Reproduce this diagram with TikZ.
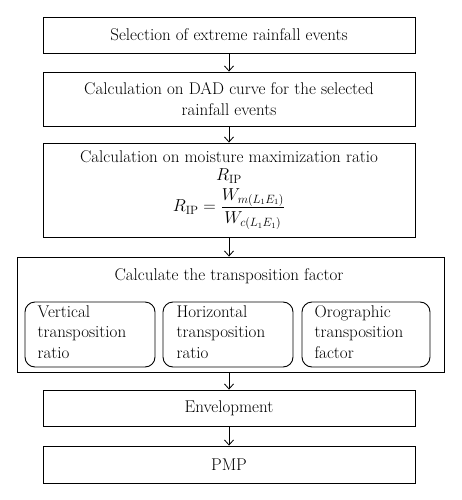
\documentclass[tikz,border=0pt]{standalone}
\usetikzlibrary{arrows.meta}
\begin{document}
\begin{tikzpicture}[x=1pt,y=-1pt,
  box/.style={draw,line width=0.9pt,rectangle,inner sep=0pt},
  sub/.style={draw,line width=0.9pt,rounded corners=10pt,inner sep=0pt},
  txt/.style={font=\fontsize{17}{20.5}\selectfont,align=center},
  arr/.style={-{Straight Barb[length=5pt,width=9pt]},line width=0.8pt}]
\useasboundingbox (0,0) rectangle (461,500);
% boxes
\node[box,minimum width=372pt,minimum height=36pt] (b1) at (229,35) {};
\node[txt] (t1) at (b1.center) {Selection of extreme rainfall events};
\node[box,minimum width=372pt,minimum height=54pt] (b2) at (229,99) {};
\node[txt] (t2) at (b2.center) {Calculation on DAD curve for the selected\\rainfall events};
\node[box,minimum width=372pt,minimum height=94pt] (b3) at (229,190) {};
\node[txt] (t3) at (229,157) {Calculation on moisture maximization ratio};
\node[txt] (t3b) at (229,176) {$R_{\mathrm{IP}}$};
\node[txt] (t3c) at (229,209) {$\displaystyle R_{\mathrm{IP}} = \frac{W_{m(L_1E_1)}}{W_{c(L_1E_1)}}$};
\node[box,minimum width=427pt,minimum height=115pt] (b4) at (230.5,314.5) {};
\node[txt] (t4) at (229,276) {Calculate the transposition factor};
\node[sub,minimum width=130pt,minimum height=65pt] (s1) at (90,334.5) {};
\node[sub,minimum width=130pt,minimum height=65pt] (s2) at (228,334.5) {};
\node[sub,minimum width=128pt,minimum height=65pt] (s3) at (366,334.5) {};
\node[txt,align=left,anchor=west] (u1) at (34,332) {Vertical\\transposition\\ratio};
\node[txt,align=left,anchor=west] (u2) at (173,332) {Horizontal\\transposition\\ratio};
\node[txt,align=left,anchor=west] (u3) at (311,332) {Orographic\\transposition\\factor};
\node[box,minimum width=372pt,minimum height=36pt] (b5) at (229,408) {};
\node[txt] (t5) at (b5.center) {Envelopment};
\node[box,minimum width=372pt,minimum height=37pt] (b6) at (229,464.5) {};
\node[txt] (t6) at (b6.center) {PMP};
% arrows
\draw[arr] (b1.south) -- (b2.north);
\draw[arr] (b2.south) -- (b3.north);
\draw[arr] (b3.south) -- (b3.south |- b4.north);
\draw[arr] (b4.south -| b5.north) -- (b5.north);
\draw[arr] (b5.south) -- (b6.north);
\end{tikzpicture}
\end{document}
